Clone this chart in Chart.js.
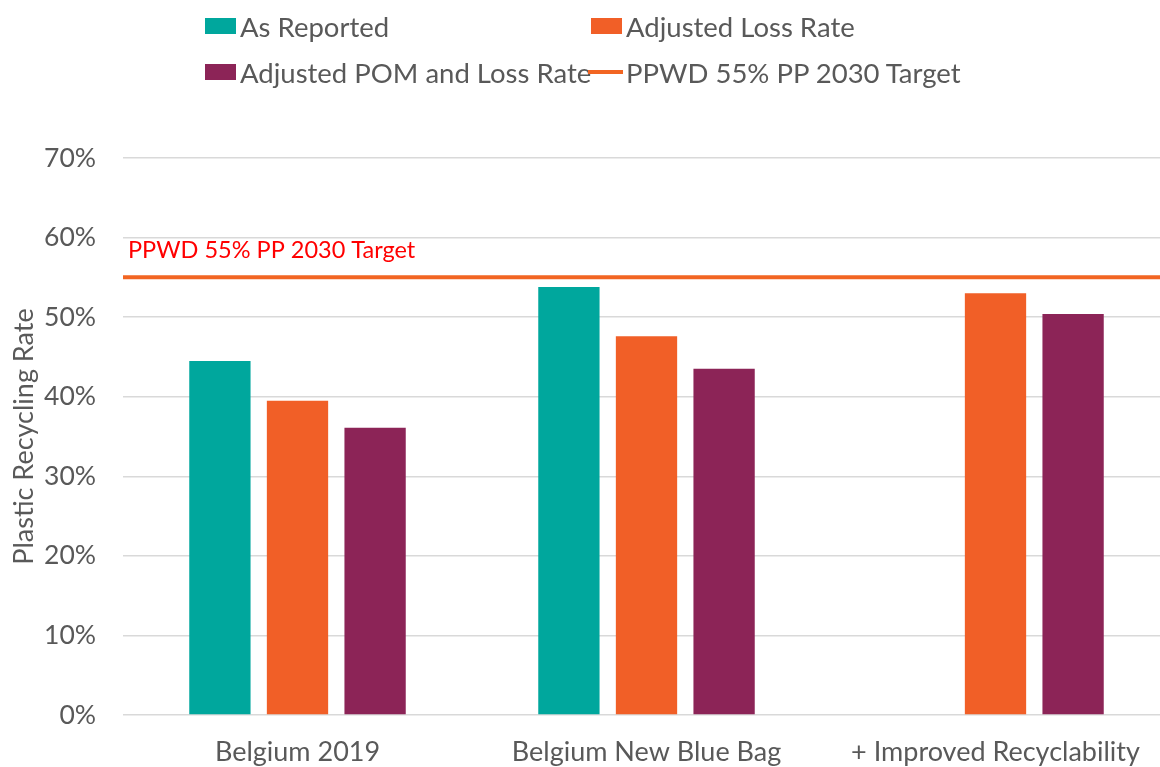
<!DOCTYPE html>
<html>
<head>
<meta charset="utf-8">
<script src="https://cdn.jsdelivr.net/npm/chart.js@4.4.1/dist/chart.umd.min.js"></script>
<style>
    html, body { margin: 0; background: #fff; overflow: hidden; }
    #wrap { position: relative; width: 1160px; height: 767px; overflow: hidden; }
    #legend { position: absolute; left: 0; top: 0; width: 1160px; height: 110px; font-family: Lato, sans-serif; color: #595959; font-size: 27.5px; }
    .item { position: absolute; display: flex; align-items: center; white-space: nowrap; height: 34px; }
    .box { width: 31px; height: 16px; margin-right: 4px; }
    .line { width: 35px; height: 4px; margin-right: 3px; }
</style>
</head>
<body>
<div id="wrap">
    <!-- canvas is a bit wider than the page: the plot runs past the right edge like the original -->
    <canvas id="chart" width="1170" height="767"></canvas>
    <div id="legend"></div>
</div>
<script>
    // Chart data
    const categories = ['Belgium 2019', 'Belgium New Blue Bag', '+ Improved Recyclability'];
    const asReported = [44.5, 53.8, null];
    const adjustedLossRate = [39.5, 47.6, 53.0];
    const adjustedPomLossRate = [36.1, 43.5, 50.4];
    const targetValue = 55;
    const targetLabel = 'PPWD 55% PP 2030 Target';

    const colors = {
        teal: '#00A79D',
        orange: '#F15F27',
        purple: '#8C2457',
        target: '#F26522'
    };

    // Target line across the whole plot, plus its red caption
    const targetLinePlugin = {
        id: 'targetLine',
        afterDatasetsDraw(chart) {
            const { ctx, chartArea, scales } = chart;
            const y = scales.y.getPixelForValue(targetValue);
            ctx.save();
            ctx.strokeStyle = colors.target;
            ctx.lineWidth = 4;
            ctx.beginPath();
            ctx.moveTo(chartArea.left, y);
            ctx.lineTo(chartArea.right, y);
            ctx.stroke();
            ctx.fillStyle = '#FF0000';
            ctx.font = '23.5px Lato, sans-serif';
            ctx.textBaseline = 'middle';
            ctx.fillText(targetLabel, chartArea.left + 5, y - 27);
            ctx.restore();
        }
    };

    const barOpts = { categoryPercentage: 0.667, barPercentage: 0.79 };

    const ctx = document.getElementById('chart').getContext('2d');
    const chart = new Chart(ctx, {
        type: 'bar',
        data: {
            labels: categories,
            datasets: [
                { label: 'As Reported', data: asReported, backgroundColor: colors.teal, ...barOpts },
                { label: 'Adjusted Loss Rate', data: adjustedLossRate, backgroundColor: colors.orange, ...barOpts },
                { label: 'Adjusted POM and Loss Rate', data: adjustedPomLossRate, backgroundColor: colors.purple, ...barOpts }
            ]
        },
        options: {
            responsive: false,
            animation: false,
            layout: { padding: { top: 158, right: 0, left: 8, bottom: 0 } },
            plugins: {
                legend: { display: false },
                tooltip: { enabled: false }
            },
            scales: {
                x: {
                    grid: { display: false },
                    border: { display: false },
                    ticks: { color: '#595959', font: { family: 'Lato', size: 27 }, padding: 13 },
                    afterFit: s => { s.paddingRight = 0; s.paddingLeft = 0; s.height = 52; }
                },
                y: {
                    min: 0,
                    max: 70,
                    ticks: {
                        stepSize: 10,
                        color: '#595959',
                        font: { family: 'Lato', size: 26.5 },
                        padding: 27,
                        callback: v => v + '%'
                    },
                    grid: { color: '#D9D9D9', lineWidth: 1.5, drawTicks: false },
                    border: { display: false },
                    title: {
                        display: true,
                        text: 'Plastic Recycling Rate',
                        color: '#595959',
                        font: { family: 'Lato', size: 27 },
                        padding: { top: 0, bottom: 4 }
                    },
                    afterFit: s => { s.width = 115; s.paddingTop = 0; s.paddingBottom = 0; }
                }
            }
        },
        plugins: [targetLinePlugin]
    });

    // HTML legend laid out in two columns like the original
    const legendItems = chart.data.datasets.map(ds => ({ label: ds.label, color: ds.backgroundColor, line: false }));
    legendItems.push({ label: targetLabel, color: colors.target, line: true });
    const slots = [[205, 26], [591, 26], [205, 72], [588, 72]];
    const legendEl = document.getElementById('legend');
    legendItems.forEach((it, i) => {
        const item = document.createElement('div');
        item.className = 'item';
        item.style.left = slots[i][0] + 'px';
        item.style.top = (slots[i][1] - 17) + 'px';
        const mark = document.createElement('span');
        mark.className = it.line ? 'line' : 'box';
        mark.style.background = it.color;
        item.appendChild(mark);
        item.appendChild(document.createTextNode(it.label));
        legendEl.appendChild(item);
    });
</script>
</body>
</html>
